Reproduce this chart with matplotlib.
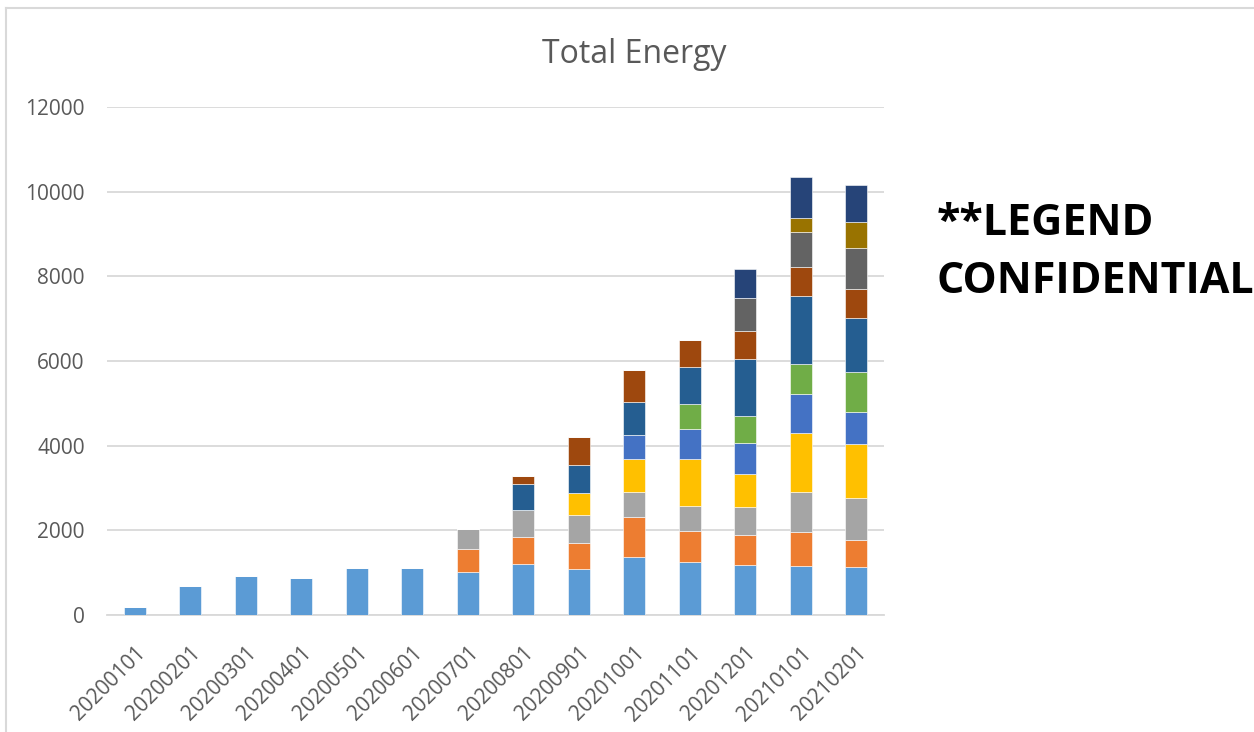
import numpy as np
import matplotlib
matplotlib.use("Agg")
import matplotlib.pyplot as plt
from matplotlib.lines import Line2D

plt.rcParams['font.family'] = ['Open Sans', 'DejaVu Sans']

months = ["20200101", "20200201", "20200301", "20200401", "20200501", "20200601",
          "20200701", "20200801", "20200901", "20201001", "20201101", "20201201",
          "20210101", "20210201"]

# one list per stacked series (Excel default palette order)
s1 = [189, 690, 918, 872, 1106, 1100, 1024, 1197, 1079, 1362, 1260, 1173, 1165, 1142]
s2 = [0, 0, 0, 0, 0, 0, 543, 653, 622, 945, 732, 725, 804, 638]
s3 = [0, 0, 0, 0, 0, 0, 457, 630, 661, 606, 583, 661, 929, 976]
s4 = [0, 0, 0, 0, 0, 0, 0, 0, 528, 772, 1118, 764, 1401, 1283]
s5 = [0, 0, 0, 0, 0, 0, 0, 0, 0, 559, 709, 748, 929, 764]
s6 = [0, 0, 0, 0, 0, 0, 0, 0, 0, 0, 574, 630, 701, 937]
s7 = [0, 0, 0, 0, 0, 0, 0, 607, 645, 795, 874, 1346, 1614, 1268]
s8 = [0, 0, 0, 0, 0, 0, 0, 189, 678, 741, 646, 670, 685, 701]
s9 = [0, 0, 0, 0, 0, 0, 0, 0, 0, 0, 0, 771, 827, 952]
s10 = [0, 0, 0, 0, 0, 0, 0, 0, 0, 0, 0, 0, 331, 615]
s11 = [0, 0, 0, 0, 0, 0, 0, 0, 0, 0, 0, 685, 968, 874]

series = [s1, s2, s3, s4, s5, s6, s7, s8, s9, s10, s11]
colors = ["#5B9BD5", "#ED7D31", "#A5A5A5", "#FFC000", "#4472C4", "#70AD47",
          "#255E91", "#9E480E", "#636363", "#997300", "#264478"]

fig = plt.figure(figsize=(12.54, 7.32), dpi=100)
ax = fig.add_axes([0.0853, 0.1598, 0.6197, 0.694])

x = np.arange(len(months))
bottom = np.zeros(len(months))
for vals, c in zip(series, colors):
    vals = np.array(vals, dtype=float)
    ax.bar(x, vals, 0.4, bottom=bottom, color=c, edgecolor="white",
           linewidth=0.4, zorder=3)
    bottom += vals

ax.set_xlim(-0.5, len(months) - 0.5)
ax.set_ylim(0, 12000)
ax.set_yticks(range(0, 12001, 2000))
ax.yaxis.grid(True, color="#D9D9D9", linewidth=1.3, zorder=0)
for sp in ["top", "right", "left"]:
    ax.spines[sp].set_visible(False)
ax.spines["bottom"].set_color("#D9D9D9")
ax.spines["bottom"].set_linewidth(1.3)
ax.tick_params(axis="both", length=0, colors="#595959", labelsize=15)
ax.tick_params(axis="y", pad=16)
ax.set_xticks(x)
ax.set_xticklabels(months, rotation=45, ha="right", rotation_mode="anchor")
ax.tick_params(axis="x", pad=20)

fig.text(0.506, 0.925, "Total Energy", ha="center", va="center",
         fontsize=23, color="#595959")

fig.text(0.747, 0.5997, "**LEGEND\nCONFIDENTIAL", ha="left", va="baseline",
         fontsize=31, fontweight="bold", color="black", linespacing=1.45)

# chart area border (left and top edges)
fig.add_artist(Line2D([6 / 1254, 6 / 1254], [0, 1 - 8 / 732],
                      color="#D9D9D9", linewidth=1.5))
fig.add_artist(Line2D([6 / 1254, 1], [1 - 8 / 732, 1 - 8 / 732],
                      color="#D9D9D9", linewidth=1.5))

fig.savefig("out.png", dpi=100)
